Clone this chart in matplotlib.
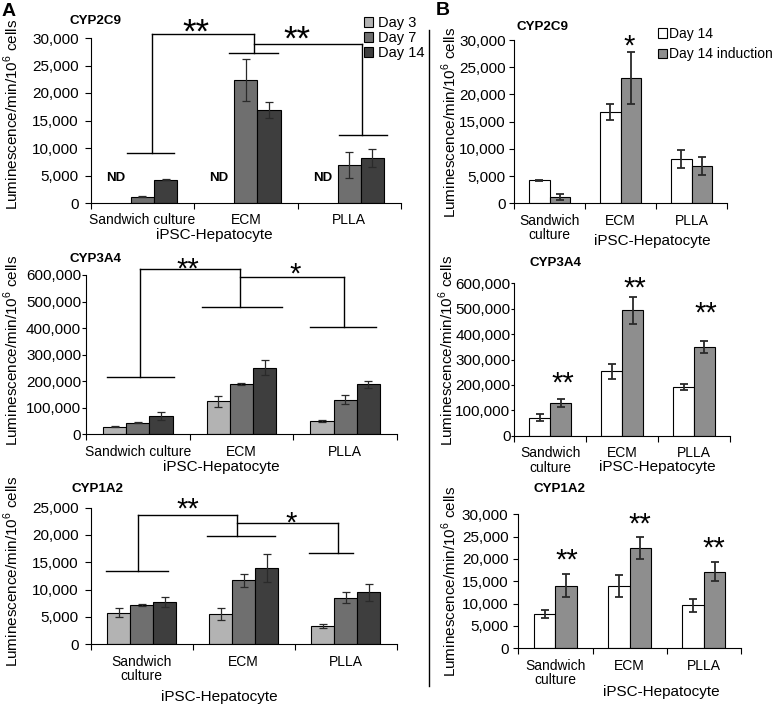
import numpy as np
import matplotlib
matplotlib.use('Agg')
from matplotlib import pyplot as plt
from matplotlib.patches import Patch
from matplotlib.ticker import FuncFormatter, MultipleLocator

plt.rcParams['font.family'] = ['Liberation Sans', 'DejaVu Sans']
plt.rcParams['mathtext.fontset'] = 'custom'
plt.rcParams['mathtext.rm'] = 'Liberation Sans'

W, H = 772, 705
ND = np.nan

# categories
sites_a = ['Sandwich culture', 'ECM', 'PLLA']
sites_a_2 = ['Sandwich\nculture', 'ECM', 'PLLA']
sites_b = ['Sandwich\nculture', 'ECM', 'PLLA']
days_a = ['Day 3', 'Day 7', 'Day 14']
days_b = ['Day 14', 'Day 14 induction']

# panel A, rows = day 3, day 7, day 14 (ND = not detected)
cyp2c9_a = [[ND, ND, ND], [1150, 22400, 6900], [4200, 16900, 8200]]
cyp2c9_a_err = [[ND, ND, ND], [100, 3850, 2300], [100, 1500, 1600]]
cyp3a4_a = [[30000, 125000, 51000], [44000, 191000, 131000], [70000, 252000, 189000]]
cyp3a4_a_err = [[3000, 21000, 2500], [2500, 3000, 17000], [16000, 29000, 13000]]
cyp1a2_a = [[5780, 5530, 3350], [7180, 11680, 8500], [7660, 13930, 9490]]
cyp1a2_a_err = [[850, 1150, 420], [150, 1200, 1000], [900, 2500, 1550]]

# panel B, rows = day 14, day 14 induction
cyp2c9_b = [[4200, 16800, 8170], [1160, 23000, 6800]]
cyp2c9_b_err = [[100, 1500, 1700], [520, 4750, 1650]]
cyp3a4_b = [[71000, 253000, 191000], [128000, 494000, 349000]]
cyp3a4_b_err = [[15000, 29000, 12000], [15000, 54000, 24000]]
cyp1a2_b = [[7700, 13930, 9600], [13980, 22400, 17150]]
cyp1a2_b_err = [[900, 2500, 1500], [2600, 2500, 2150]]

# significance brackets of panel A: group caps (left, right, y), stem x, links (g0, g1, y)
caps_2c9 = [(-0.145, 0.31, 9100), (0.84, 1.31, 27200), (1.90, 2.36, 12450)]
stems_2c9 = [0.09, 1.08, 2.12]
links_2c9 = [(0, 1, 30800), (1, 2, 28900)]
stars_2c9 = [('**', 0.52, 32400), ('**', 1.49, 31000)]

caps_3a4 = [(-0.30, 0.35, 216000), (0.62, 1.39, 480000), (1.66, 2.30, 404000)]
stems_3a4 = [0.02, 0.99, 1.99]
links_3a4 = [(0, 1, 622000), (1, 2, 592000)]
stars_3a4 = [('**', 0.48, 645000), ('*', 1.52, 626000)]

caps_1a2 = [(-0.35, 0.26, 13440), (0.64, 1.31, 19830), (1.64, 2.07, 16600)]
stems_1a2 = [-0.04, 0.93, 1.92]
links_1a2 = [(0, 1, 23600), (1, 2, 22080)]
stars_1a2 = [('**', 0.45, 25800), ('*', 1.47, 23300)]

# panel B stars over induction bars
stars_b_2c9 = [('*', 1.12, 30000)]
stars_b_3a4 = [('**', 0.17, 232000), ('**', 1.18, 606000), ('**', 2.17, 508000)]
stars_b_1a2 = [('**', 0.15, 21100), ('**', 1.14, 29100), ('**', 2.14, 23700)]

colors_a = ['#b3b3b3', '#6f6f6f', '#3e3e3e']
colors_b = ['white', '#8e8e8e']
ylabel = r'Luminescence/min/10$^{\mathregular{6}}$ cells'

fig = plt.figure(figsize=(W / 100, H / 100), dpi=100)


def fx(x):
    return x / W


def fy(y):
    return 1 - y / H


def add_axes_px(x0, y0, x1, y1):
    return fig.add_axes([x0 / W, 1 - y1 / H, (x1 - x0) / W, (y1 - y0) / H])


def style_axes(ax, ymax, ystep, ticklabels, ypad=4.5, ylen=4):
    ax.set_xlim(-0.5, 2.5)
    ax.set_ylim(0, ymax)
    ax.yaxis.set_major_locator(MultipleLocator(ystep))
    ax.yaxis.set_major_formatter(FuncFormatter(lambda v, p: f'{v:,.0f}'))
    ax.set_xticks(range(3))
    ax.set_xticklabels(ticklabels, fontsize=10, linespacing=1.05)
    ax.set_xticks([-0.5, 0.5, 1.5, 2.5], minor=True)
    ax.tick_params(axis='x', which='major', length=0, pad=7.5)
    ax.tick_params(axis='x', which='minor', length=4, width=0.8)
    ax.tick_params(axis='y', length=ylen, width=0.8, labelsize=11, pad=ypad)
    for s in ['top', 'right']:
        ax.spines[s].set_visible(False)
    for s in ['left', 'bottom']:
        ax.spines[s].set_linewidth(0.8)


def draw_bars(ax, series, errors, colors, offsets, width, elw):
    for vals, errs, color, off in zip(series, errors, colors, offsets):
        vals = np.asarray(vals, float)
        errs = np.asarray(errs, float)
        x = np.arange(3) + off
        ok = ~np.isnan(vals)
        if not ok.any():
            continue
        ax.bar(x[ok], vals[ok], width, color=color, edgecolor='black', linewidth=0.8, zorder=2)
        ax.errorbar(x[ok], vals[ok], yerr=errs[ok], fmt='none', ecolor='#2a2a2a',
                    elinewidth=elw, capsize=2.6, capthick=elw, zorder=3)


def legend_handles(colors, labels):
    return [Patch(facecolor=c, edgecolor='black', linewidth=0.8, label=l)
            for c, l in zip(colors, labels)]


def draw_brackets(ax, caps, stems, links):
    for g, (l, r, y) in enumerate(caps):
        ax.plot([l, r], [y, y], color='black', lw=1, clip_on=False)
        top = max(ly for g0, g1, ly in links if g in (g0, g1))
        ax.plot([stems[g], stems[g]], [y, top], color='black', lw=1, clip_on=False)
    for g0, g1, y in links:
        ax.plot([stems[g0], stems[g1]], [y, y], color='black', lw=1, clip_on=False)


def draw_stars(ax, stars, size):
    for txt, x, y in stars:
        ax.annotate(txt, (x, y), xytext=(0, -0.5 * size), textcoords='offset points',
                    ha='center', va='baseline', fontsize=size, annotation_clip=False)


offs_a = [-0.224, 0, 0.224]
offs_b = [-0.145, 0.145]

# ---- panel A ----
ax1 = add_axes_px(90.7, 38, 401, 203)
draw_bars(ax1, cyp2c9_a, cyp2c9_a_err, colors_a, offs_a, 0.224, 0.9)
style_axes(ax1, 30000, 5000, sites_a)
draw_brackets(ax1, caps_2c9, stems_2c9, links_2c9)
draw_stars(ax1, stars_2c9, 25)
for i in range(3):
    if np.isnan(cyp2c9_a[0][i]):
        ax1.text(i - 0.26, 4500, 'ND', ha='center', va='center', fontsize=9.5,
                 fontweight='bold')
ax1.legend(handles=legend_handles(colors_a, days_a), loc='upper left',
           bbox_to_anchor=(fx(364), fy(16)), bbox_transform=fig.transFigure,
           frameon=False, fontsize=10.5, handlelength=0.65, handleheight=0.65,
           handletextpad=0.3, labelspacing=0.08, borderpad=0, borderaxespad=0)

ax2 = add_axes_px(86, 275, 397, 434.5)
draw_bars(ax2, cyp3a4_a, cyp3a4_a_err, colors_a, offs_a, 0.224, 0.9)
style_axes(ax2, 600000, 100000, sites_a, ypad=0.5, ylen=3)
draw_brackets(ax2, caps_3a4, stems_3a4, links_3a4)
draw_stars(ax2, stars_3a4, 21)

ax3 = add_axes_px(90.7, 507.5, 396.7, 644.3)
draw_bars(ax3, cyp1a2_a, cyp1a2_a_err, colors_a, offs_a, 0.224, 0.9)
style_axes(ax3, 25000, 5000, sites_a_2)
draw_brackets(ax3, caps_1a2, stems_1a2, links_1a2)
draw_stars(ax3, stars_1a2, 21)

# ---- panel B ----
ax4 = add_axes_px(514.3, 40, 727, 203.3)
draw_bars(ax4, cyp2c9_b, cyp2c9_b_err, colors_b, offs_b, 0.29, 1.3)
style_axes(ax4, 30000, 5000, sites_b, ypad=2.5, ylen=3.5)
draw_stars(ax4, stars_b_2c9, 21)
ax4.legend(handles=legend_handles(colors_b, days_b), loc='upper left',
           bbox_to_anchor=(fx(658), fy(27)), bbox_transform=fig.transFigure,
           frameon=False, fontsize=10, handlelength=0.68, handleheight=0.68,
           handletextpad=0.08, labelspacing=0.45, borderpad=0, borderaxespad=0)

ax5 = add_axes_px(514.3, 283.3, 730, 435.7)
draw_bars(ax5, cyp3a4_b, cyp3a4_b_err, colors_b, offs_b, 0.29, 1.3)
style_axes(ax5, 600000, 100000, sites_b, ypad=0.3, ylen=2.5)
draw_stars(ax5, stars_b_3a4, 21)

ax6 = add_axes_px(518.3, 514.3, 741, 648.3)
draw_bars(ax6, cyp1a2_b, cyp1a2_b_err, colors_b, offs_b, 0.29, 1.3)
style_axes(ax6, 30000, 5000, sites_b, ypad=3.5, ylen=3.5)
draw_stars(ax6, stars_b_1a2, 21)

# titles, axis labels, panel letters
titles = [('CYP2C9', 70, 20.7), ('CYP3A4', 70, 259.5), ('CYP1A2', 71.5, 489.5),
          ('CYP2C9', 516.5, 26.7), ('CYP3A4', 530, 262.5), ('CYP1A2', 533, 489.5)]
for t, x, y in titles:
    fig.text(fx(x), fy(y), t, ha='left', va='center', fontsize=9.6, fontweight='bold')

for x, y in [(11, 114.5), (11, 350.5), (11, 571), (449, 122), (446, 350.5), (449, 581)]:
    fig.text(fx(x), fy(y), ylabel, rotation=90, ha='center', va='center', fontsize=11)

for x, y in [(214, 235), (221, 467), (219, 697), (652, 241), (657, 467), (661, 692)]:
    fig.text(fx(x), fy(y), 'iPSC-Hepatocyte', ha='center', va='center', fontsize=11)

fig.text(fx(8.5), fy(12), 'A', ha='center', va='center', fontsize=14, fontweight='bold')
fig.text(fx(442.5), fy(10.5), 'B', ha='center', va='center', fontsize=14, fontweight='bold')

fig.add_artist(plt.Line2D([fx(429), fx(429)], [fy(30), fy(686)], color='black', lw=1))

fig.savefig('out.png', dpi=100)
